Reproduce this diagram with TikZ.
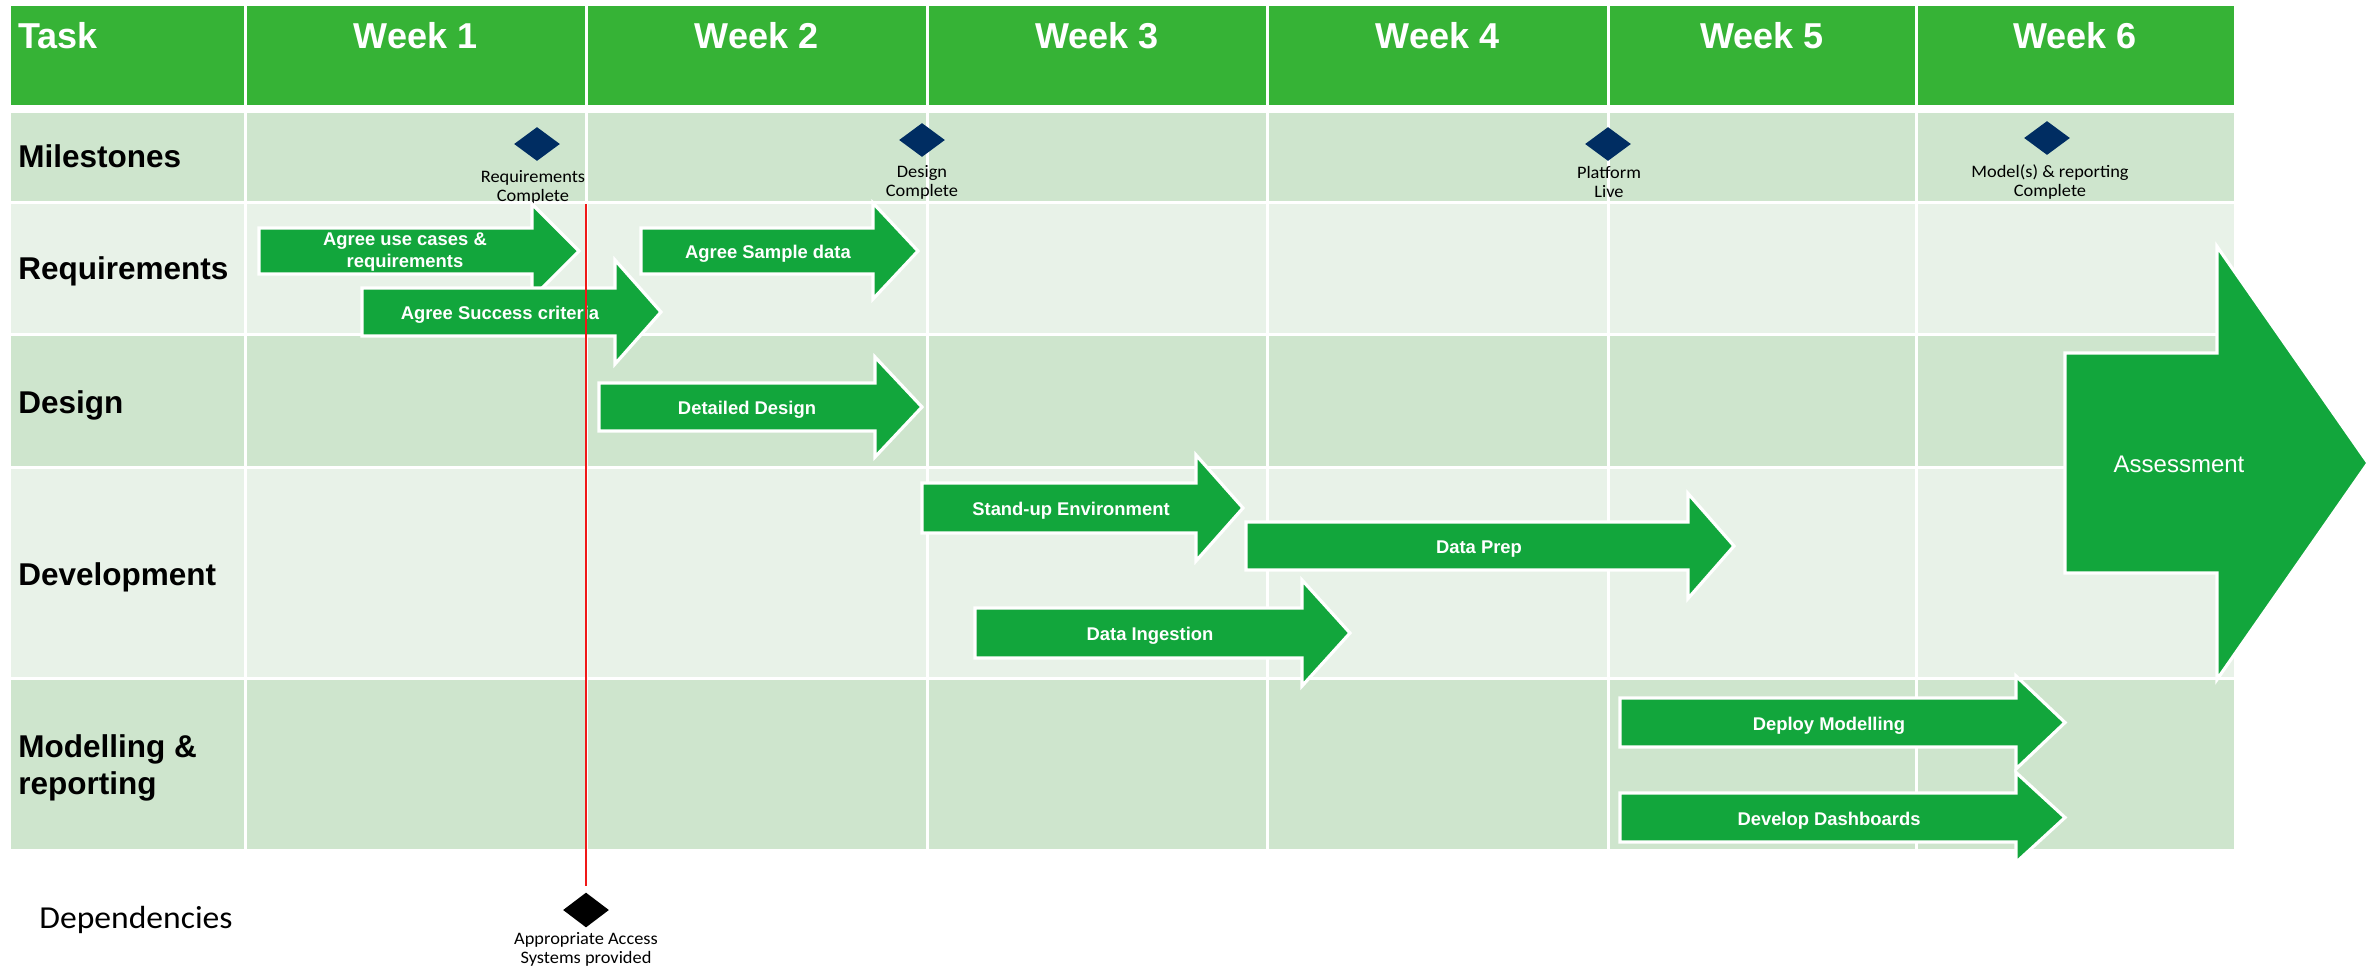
\documentclass[tikz,border=0pt]{standalone}
\usepackage{fontspec}
\setmainfont{Liberation Sans}
\newfontfamily\labelfont[FakeStretch=1.05]{Carlito}
\usetikzlibrary{shapes.geometric}
\definecolor{hdrgreen}{HTML}{36B336}
\definecolor{arrgreen}{HTML}{12A63C}
\definecolor{rowdark}{HTML}{CEE5CD}
\definecolor{rowlight}{HTML}{E8F2E8}
\definecolor{navyms}{HTML}{002D62}
\definecolor{deplinered}{HTML}{F01818}
\tikzset{
  gridline/.style={draw=white, line width=1.5pt},
  arrowshape/.style={fill=arrgreen, draw=white, line width=1.6pt, line join=miter},
  arrowtext/.style={text=white, font=\bfseries\fontsize{9.2}{11}\selectfont, inner sep=0pt, align=center},
  hdrtext/.style={text=white, font=\bfseries\fontsize{18}{20}\selectfont, inner sep=0pt, anchor=base},
  rowtext/.style={text=black, font=\bfseries\fontsize{15.75}{18.5}\selectfont, inner sep=0pt, align=left},
  mslabel/.style={text=black, font=\labelfont\fontsize{8.75}{9.5}\selectfont, inner sep=0pt, align=center, anchor=north},
  msdiamond/.style={diamond, fill=navyms, draw=none, inner sep=0pt, minimum width=23pt, minimum height=17pt},
  depdiamond/.style={diamond, fill=black, draw=none, inner sep=0pt, minimum width=23pt, minimum height=17.5pt},
}
\newcommand\ganttshape[6]{% x1, xb, xt, yc, hb, hh
  \draw[arrowshape] ({#1},{#4-#5}) -- ({#2},{#4-#5}) -- ({#2},{#4-#6}) -- ({#3},{#4})
    -- ({#2},{#4+#6}) -- ({#2},{#4+#5}) -- ({#1},{#4+#5}) -- cycle;
}
\begin{document}
\begin{tikzpicture}[x=0.5pt,y=-0.5pt]
\useasboundingbox (0,0) rectangle (2377,970);
\fill[white] (0,0) rectangle (2377,970);
% rows
\fill[hdrgreen] (11,6) rectangle (2234,105);
\fill[rowdark] (11,113) rectangle (2234,202);
\fill[rowlight] (11,202) rectangle (2234,334);
\fill[rowdark] (11,334) rectangle (2234,467);
\fill[rowlight] (11,467) rectangle (2234,678);
\fill[rowdark] (11,678) rectangle (2234,849);
% grid lines
\foreach \yy in {202,334,467,678} \draw[gridline] (11,\yy) -- (2234,\yy);
\foreach \xx in {245,586,927,1267,1608,1916} \draw[gridline] (\xx,4) -- (\xx,851);
\fill[white] (0,105) rectangle (2377,113);
% header texts
\node[hdrtext, anchor=base west] (task) at (18,48) {Task};
\node[hdrtext] (w1) at (415.5,48) {Week 1};
\node[hdrtext] (w2) at (756.5,48) {Week 2};
\node[hdrtext] (w3) at (1097,48) {Week 3};
\node[hdrtext] (w4) at (1437.5,48) {Week 4};
\node[hdrtext] (w5) at (1762,48) {Week 5};
\node[hdrtext] (w6) at (2075,48) {Week 6};
% row labels
\node[rowtext, anchor=base west] (lms) at (18,167) {Milestones};
\node[rowtext, anchor=base west] (lreq) at (18,279) {Requirements};
\node[rowtext, anchor=base west] (ldes) at (18,413) {Design};
\node[rowtext, anchor=base west] (ldev) at (18,585) {Development};
\node[rowtext, anchor=north west] (lmod) at (18,734) {Modelling \&\\reporting};
\node[text=black, font=\labelfont\fontsize{16}{18}\selectfont, inner sep=0pt, anchor=base west] (ldep) at (39,928) {Dependencies};
% milestones
\node[msdiamond] (m1) at (537,144) {};
\node[msdiamond] (m2) at (922,140) {};
\node[msdiamond] (m3) at (1608,144) {};
\node[msdiamond] (m4) at (2047,138) {};
\node[mslabel] (m1l) at (533,170) {Requirements\\Complete};
\node[mslabel] (m2l) at (922,165) {Design\\Complete};
\node[mslabel] (m3l) at (1609,166) {Platform\\Live};
\node[mslabel] (m4l) at (2050,164) {Model(s) \& reporting\\Complete};
% arrows
\ganttshape{259}{532}{579}{251}{23}{47}
\node[arrowtext] (aruc) at (405,252) {Agree use cases \&\\requirements};
\ganttshape{362}{615}{661}{312}{24}{52}
\node[arrowtext, anchor=base] (arsc) at (500,319) {Agree Success criteria};
\ganttshape{641}{873}{918}{251}{23}{48}
\node[arrowtext, anchor=base] (arsd) at (768,258) {Agree Sample data};
\ganttshape{599}{875}{922}{407}{24}{50}
\node[arrowtext, anchor=base] (add) at (747,414) {Detailed Design};
\ganttshape{922}{1196}{1243}{508}{25}{53}
\node[arrowtext, anchor=base] (asue) at (1071,515) {Stand-up Environment};
\ganttshape{1246}{1688}{1734}{546}{24}{52.5}
\node[arrowtext, anchor=base] (adp) at (1479,553) {Data Prep};
\ganttshape{975}{1302}{1350}{633}{25}{53}
\node[arrowtext, anchor=base] (adi) at (1150,640) {Data Ingestion};
\ganttshape{1620}{2016}{2065}{722.5}{24.5}{46.5}
\node[arrowtext, anchor=base] (adm) at (1829,730) {Deploy Modelling};
\ganttshape{1620}{2016}{2065}{817.5}{24.5}{45}
\node[arrowtext, anchor=base] (addb) at (1829,825) {Develop Dashboards};
\ganttshape{2065}{2217}{2368}{463}{110}{216.5}
\node[text=white, font=\fontsize{12}{14}\selectfont, inner sep=0pt, anchor=base] (aass) at (2179,472) {Assessment};
% dependency
\node[depdiamond] (dep) at (586,910) {};
\node[mslabel] (depl) at (586,932) {Appropriate Access\\Systems provided};
\coordinate (redtop) at (586,204);
\draw[deplinered, line width=0.8pt, shorten >=3pt] (redtop) -- (dep.north);
\end{tikzpicture}
\end{document}
